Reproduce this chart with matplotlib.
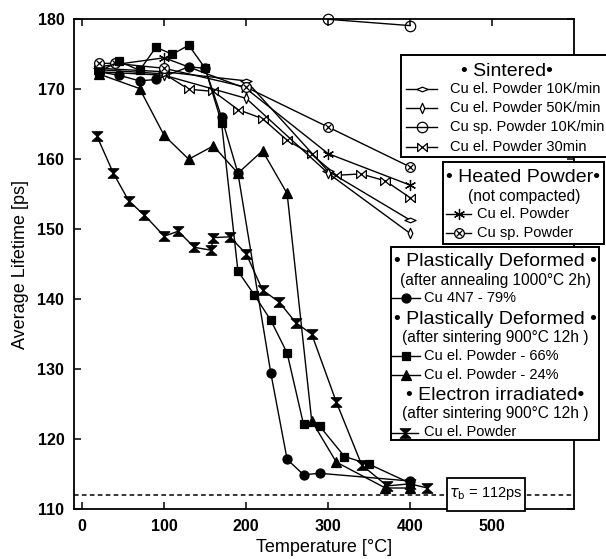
import matplotlib
matplotlib.use('Agg')
import matplotlib.pyplot as plt
from matplotlib.path import Path
from matplotlib.patches import Rectangle
from matplotlib.lines import Line2D

plt.rcParams['font.family'] = ['Liberation Sans', 'DejaVu Sans']

# ---------------- data ----------------
# Sintered
sin10_T = [20, 100, 200, 300, 400]
sin10_tau = [173.0, 172.5, 171.2, 158.3, 151.3]
sin50_T = [20, 100, 200, 300, 400]
sin50_tau = [172.5, 172.0, 168.7, 158.0, 149.4]
sinsp_T = [300, 400]
sinsp_tau = [180.0, 179.1]
sin30_T = [20, 100, 130, 160, 190, 220, 250, 280, 310, 340, 370, 400]
sin30_tau = [172.8, 172.2, 170.0, 169.7, 167.1, 165.8, 162.7, 160.7, 157.7, 157.9, 156.9, 154.5]
# Heated powder
heel_T = [20, 100, 200, 300, 400]
heel_tau = [173.2, 174.5, 170.1, 160.8, 156.3]
hesp_T = [20, 40, 100, 200, 300, 400]
hesp_tau = [173.7, 173.7, 173.0, 170.3, 164.6, 158.9]
# Plastically deformed (annealed)
cu4n7_T = [20, 45, 70, 90, 130, 150, 170, 190, 230, 250, 270, 290, 400]
cu4n7_tau = [172.5, 172.0, 171.2, 171.4, 173.2, 173.0, 166.0, 158.0, 129.5, 117.1, 114.9, 115.1, 114.0]
# Plastically deformed (sintered)
p66_T = [20, 45, 70, 90, 110, 130, 150, 170, 190, 210, 230, 250, 270, 290, 320, 350, 400]
p66_tau = [172.5, 174.0, 172.7, 176.0, 175.0, 176.3, 173.0, 165.2, 144.0, 140.6, 137.0, 132.3,
           122.1, 121.8, 117.5, 116.4, 113.7]
p24_T = [20, 70, 100, 130, 160, 190, 220, 250, 280, 310, 370, 400]
p24_tau = [172.2, 170.1, 163.4, 160.0, 161.9, 158.0, 161.2, 155.1, 122.6, 116.7, 113.0, 113.0]
# Electron irradiated
eirr_T = [18, 38, 57, 76, 100, 117, 137, 157, 160, 180, 200, 220, 240, 261, 280, 310, 341, 372, 400, 421]
eirr_tau = [163.3, 158.0, 154.0, 152.0, 149.0, 149.7, 147.4, 147.0, 148.8, 148.9, 146.5, 141.3,
            139.6, 136.6, 135.0, 125.3, 116.3, 113.3, 113.6, 113.0]

tau_bulk = 112
x_ticks = [0, 100, 200, 300, 400, 500]
y_ticks = [110, 120, 130, 140, 150, 160, 170, 180]

# ---------------- markers ----------------
CL = [Path.MOVETO, Path.LINETO, Path.LINETO, Path.LINETO, Path.CLOSEPOLY]
wide_diamond = Path([(-1, 0), (0, 0.42), (1, 0), (0, -0.42), (-1, 0)], CL)
thin_diamond = Path([(0, -1), (0.45, 0), (0, 1), (-0.45, 0), (0, -1)], CL)
bowtie = Path([(-1, -0.85), (1, 0.85), (1, -0.85), (-1, 0.85), (-1, -0.85)], CL)
hourglass = Path([(-1, 0.9), (1, 0.9), (-1, -0.9), (1, -0.9), (-1, 0.9)], CL)

LW = 1.0
M_SIN10 = dict(marker=wide_diamond, ms=8, mfc='white')
M_SIN50 = dict(marker=thin_diamond, ms=7.5, mfc='white')
M_SINSP = dict(marker='o', ms=7.5, mfc='none')
M_SIN30 = dict(marker=bowtie, ms=7, mfc='white')
M_HEEL = dict(marker=(6, 2, 0), ms=8, mfc='white')
M_HESP = dict(marker='o', ms=7, mfc='white')
M_CU4N7 = dict(marker='o', ms=6.5, mfc='black')
M_P66 = dict(marker='s', ms=6.3, mfc='black')
M_P24 = dict(marker='^', ms=7, mfc='black')
M_EIRR = dict(marker=hourglass, ms=7.5, mfc='black')

series = [
    (sin30_T, sin30_tau, M_SIN30),
    (sin10_T, sin10_tau, M_SIN10),
    (sin50_T, sin50_tau, M_SIN50),
    (heel_T, heel_tau, M_HEEL),
    (hesp_T, hesp_tau, M_HESP),
    (eirr_T, eirr_tau, M_EIRR),
    (p24_T, p24_tau, M_P24),
    (p66_T, p66_tau, M_P66),
    (cu4n7_T, cu4n7_tau, M_CU4N7),
]

W, H = 606, 559
fig = plt.figure(figsize=(W / 100, H / 100), dpi=100)
ax = fig.add_axes([74 / W, 1 - 509 / H, 500 / W, 489.7 / H])
ax.set_xlim(-10, 600)
ax.set_ylim(110, 180)

for T, tau, st in series:
    ax.plot(T, tau, color='black', lw=LW, mec='black', mew=0.9, **st)
ax.plot(hesp_T, hesp_tau, ls='none', marker='x', ms=4.5, mec='black', mew=0.9)
ax.plot(sinsp_T, sinsp_tau, color='black', lw=LW, mec='black', mew=0.9,
        clip_on=False, zorder=4, **M_SINSP)

ax.axhline(tau_bulk, color='black', lw=1.1, ls=(0, (3, 2.2)))

ax.set_xticks(x_ticks)
ax.set_yticks(y_ticks)
ax.tick_params(direction='in', top=True, right=True, length=5, width=1.1, labelsize=11.5, pad=7)
for lab in ax.get_xticklabels() + ax.get_yticklabels():
    lab.set_fontweight('bold')
for sp in ax.spines.values():
    sp.set_linewidth(1.3)
ax.set_xlabel('Temperature [°C]', fontsize=13, labelpad=4)
ax.set_ylabel('Average Lifetime [ps]', fontsize=13, labelpad=6)

# tau_b box
ax.add_patch(Rectangle((445, 109.75), 95, 4.65, facecolor='white', edgecolor='black',
                       lw=1.3, clip_on=False, zorder=6))
ax.text(492, 112.2, r'$\tau_{\rm b}$ = 112ps', ha='center', va='center', fontsize=10.5, zorder=7)

# ---------------- legend overlay (pixel coordinates) ----------------
ao = fig.add_axes([0, 0, 1, 1])
ao.set_xlim(0, W)
ao.set_ylim(H, 0)
ao.axis('off')
ao.set_zorder(5)


def box(x0, y0, x1, y1):
    ao.add_patch(Rectangle((x0, y0), x1 - x0, y1 - y0, facecolor='white',
                           edgecolor='black', lw=1.4, clip_on=False))


def sample(x0, x1, y, st, extra=None):
    ao.add_line(Line2D([x0, x1], [y, y], color='black', lw=LW))
    xm = (x0 + x1) / 2
    ao.plot([xm], [y], color='black', mec='black', mew=0.9, ls='none', **st)
    if extra:
        ao.plot([xm], [y], color='black', mec='black', mew=0.9, ls='none', **extra)


HDR, SUB, ENT = 14, 11.2, 10.5

# Sintered
box(401, 55, 640, 157.3)
ao.text(507, 71, '• Sintered•', fontsize=HDR, ha='center', va='center')
rows = [(89.3, 'Cu el. Powder 10K/min', M_SIN10),
        (108.3, 'Cu el. Powder 50K/min', M_SIN50),
        (127.3, 'Cu sp. Powder 10K/min', M_SINSP),
        (146.7, 'Cu el. Powder 30min', M_SIN30)]
for y, t, st in rows:
    sample(406, 437, y, st)
    ao.text(450, y, t, fontsize=ENT, ha='left', va='center')

# Heated powder
box(443, 161.7, 604, 244)
ao.text(523.5, 177, '• Heated Powder•', fontsize=HDR, ha='center', va='center')
ao.text(524, 196, '(not compacted)', fontsize=SUB, ha='center', va='center')
sample(446, 471, 214, M_HEEL)
ao.text(477, 214, 'Cu el. Powder', fontsize=ENT, ha='left', va='center')
sample(446, 471, 232.7, M_HESP, dict(marker='x', ms=4.5))
ao.text(477, 232.7, 'Cu sp. Powder', fontsize=ENT, ha='left', va='center')

# Plastically deformed / electron irradiated
box(391, 246.7, 599, 440)
cx = 495
ao.text(cx, 262, '• Plastically Deformed •', fontsize=HDR, ha='center', va='center')
ao.text(cx, 280.5, '(after annealing 1000°C 2h)', fontsize=SUB, ha='center', va='center')
sample(392, 420, 297.5, M_CU4N7)
ao.text(424, 297.5, 'Cu 4N7 - 79%', fontsize=ENT, ha='left', va='center')
ao.text(cx, 319.5, '• Plastically Deformed •', fontsize=HDR, ha='center', va='center')
ao.text(cx, 337.5, '(after sintering 900°C 12h )', fontsize=SUB, ha='center', va='center')
sample(392, 420, 355.5, M_P66)
ao.text(424, 355.5, 'Cu el. Powder - 66%', fontsize=ENT, ha='left', va='center')
sample(392, 420, 375, M_P24)
ao.text(424, 375, 'Cu el. Powder - 24%', fontsize=ENT, ha='left', va='center')
ao.text(cx, 395, '• Electron irradiated•', fontsize=HDR, ha='center', va='center')
ao.text(cx, 413.5, '(after sintering 900°C 12h )', fontsize=SUB, ha='center', va='center')
sample(392, 418, 432.5, M_EIRR)
ao.text(424, 432.5, 'Cu el. Powder', fontsize=ENT, ha='left', va='center')

fig.savefig('out.png', dpi=100)
